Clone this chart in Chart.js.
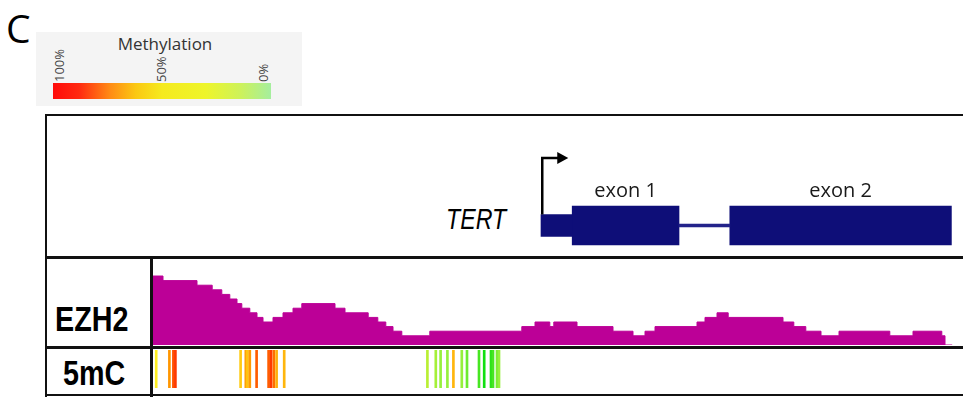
<!DOCTYPE html>
<html>
<head>
<meta charset="utf-8">
<script src="https://cdn.jsdelivr.net/npm/chart.js@4.4.1/dist/chart.umd.min.js"></script>
<style>
  body { margin: 0; width: 963px; height: 402px; position: relative; background: #fff; overflow: hidden; font-family: "Open Sans", sans-serif; }
  .abs { position: absolute; white-space: nowrap; }
  .rule { position: absolute; background: #111; }
  .track-label { position: absolute; font-family: "Liberation Sans", Arial, sans-serif; font-weight: bold; font-size: 35px; line-height: 35px; color: #000; transform-origin: 0 0; transform: scaleX(0.82); }
  .pct { position: absolute; font-size: 13px; line-height: 13px; color: #444; transform-origin: 0 0; transform: rotate(-90deg); white-space: nowrap; }
  canvas { position: absolute; }
</style>
</head>
<body>
<!-- panel letter -->
<div class="abs" style="left:6px;top:8px;font-size:39px;line-height:39px;color:#000;">C</div>

<!-- methylation colour key -->
<div class="abs" style="left:36px;top:32px;width:266px;height:74px;background:#f4f4f4;"></div>
<div class="abs" style="left:36px;top:35px;width:258px;text-align:center;font-size:17px;line-height:17px;color:#333;">Methylation</div>
<div class="pct" style="left:53px;top:82px;">100%</div>
<div class="pct" style="left:155px;top:82px;">50%</div>
<div class="pct" style="left:257px;top:82px;">0%</div>
<div class="abs" style="left:53px;top:83px;width:218px;height:16px;background:linear-gradient(to right,#ff0a0a 0%,#ff2a10 12%,#ff8a14 26%,#fbc812 38%,#f5ea1e 50%,#eef52a 70%,#cdf25a 86%,#a5ee9e 100%);"></div>

<!-- track frame -->
<div class="rule" style="left:45px;top:114px;width:918px;height:2px;"></div>
<div class="rule" style="left:45px;top:114px;width:2px;height:283px;"></div>
<div class="rule" style="left:45px;top:256px;width:918px;height:3px;"></div>
<div class="rule" style="left:150px;top:256px;width:3px;height:141px;"></div>
<div class="rule" style="left:45px;top:346px;width:918px;height:3px;"></div>
<div class="rule" style="left:45px;top:394px;width:918px;height:2px;"></div>

<!-- track names -->
<div class="abs" style="left:446px;top:205px;font-family:'Liberation Sans',Arial,sans-serif;font-style:italic;font-size:29px;line-height:29px;color:#000;transform-origin:0 0;transform:scaleX(0.8);">TERT</div>
<div class="track-label" style="left:55px;top:301px;">EZH2</div>
<div class="track-label" style="left:63px;top:355px;">5mC</div>

<canvas id="gene" width="800" height="106" style="left:153px;top:150px;"></canvas>
<canvas id="ezh2" width="800" height="86" style="left:153px;top:259px;"></canvas>
<canvas id="cpg" width="800" height="38" style="left:153px;top:350px;"></canvas>

<script>
// Genomic window, bp offsets from the left edge of the view
const regionStart = 0;
const regionEnd = 2000;

// TERT gene model
const utrStart = 970;
const utrEnd = 1048;
const exonNames = ['exon 1', 'exon 2'];
const exonStarts = [1048, 1442];
const exonEnds = [1315, 1996];
const intronStarts = [1315];
const intronEnds = [1442];

// EZH2 ChIP-seq coverage (step start positions, read counts)
const ezh2Pos = [0, 25, 110, 148, 172, 192, 210, 222, 242, 260, 275, 300, 325, 350, 372, 455, 480, 538, 562, 582,
                 600, 622, 692, 922, 955, 992, 1002, 1060, 1150, 1200, 1230, 1255, 1360, 1380, 1410, 1438, 1575,
                 1602, 1632, 1670, 1715, 1842, 1900, 1972, 1980, 1998];
const ezh2Signal = [14, 15, 14, 13, 12, 11, 10, 9, 8, 7, 6, 5, 6, 7, 8, 9, 8, 7, 6, 5,
                    4, 3, 2, 3, 4, 5, 4, 5, 4, 3, 2, 3, 4, 5, 6, 7, 6,
                    5, 4, 3, 2, 3, 2, 3, 2, 0];

// CpG sites and their methylation level (%)
const cpgPos = [8, 41, 51, 56, 219, 232, 236, 242, 259, 289, 295, 302, 309, 328,
                686, 707, 719, 736, 751, 772, 785, 815, 828, 845, 850, 860, 865];
const cpgMeth = [50, 75, 90, 96, 60, 72, 62, 74, 88, 88, 96, 84, 68, 66,
                 30, 24, 20, 20, 66, 20, 14, 8, 0, 4, 8, 16, 20];

const NAVY = '#0e0e78';
const MAGENTA = '#bc0097';

function methylColor(pct) {
  const stops = [[0, [16, 224, 16]], [20, [150, 240, 60]], [50, [255, 238, 32]], [75, [255, 150, 0]], [100, [255, 40, 0]]];
  for (let i = 1; i < stops.length; i++) {
    if (pct <= stops[i][0]) {
      const [p0, c0] = stops[i - 1], [p1, c1] = stops[i];
      const t = (pct - p0) / (p1 - p0);
      const c = c0.map((v, k) => Math.round(v + (c1[k] - v) * t));
      return `rgb(${c[0]},${c[1]},${c[2]})`;
    }
  }
  return 'rgb(255,40,0)';
}

Chart.defaults.animation = false;
Chart.defaults.responsive = false;
Chart.defaults.devicePixelRatio = 1;
Chart.defaults.plugins.legend.display = false;
Chart.defaults.plugins.tooltip.enabled = false;

const hiddenX = { type: 'linear', min: regionStart, max: regionEnd, display: false, offset: false };

// transcription start arrow and exon captions
const geneDecor = {
  id: 'geneDecor',
  afterDatasetsDraw(chart) {
    const { ctx, scales: { x, y } } = chart;
    const cy = y.getPixelForValue(0);
    const tx = x.getPixelForValue(utrStart) + 1.25;
    ctx.save();
    ctx.strokeStyle = '#000';
    ctx.fillStyle = '#000';
    ctx.lineWidth = 2.5;
    ctx.beginPath();
    ctx.moveTo(tx, cy - 11);
    ctx.lineTo(tx, 8);
    ctx.lineTo(tx + 17, 8);
    ctx.stroke();
    ctx.beginPath();
    ctx.moveTo(tx + 15, 2);
    ctx.lineTo(tx + 26, 8);
    ctx.lineTo(tx + 15, 14);
    ctx.closePath();
    ctx.fill();
    ctx.font = '20px "Open Sans"';
    ctx.fillStyle = '#1a1a1a';
    ctx.textAlign = 'center';
    ctx.textBaseline = 'alphabetic';
    exonNames.forEach((name, i) => {
      const cx = x.getPixelForValue((exonStarts[i] + exonEnds[i]) / 2);
      ctx.fillText(name, cx, 47);
    });
    ctx.restore();
  }
};

new Chart(document.getElementById('gene'), {
  type: 'bar',
  data: {
    labels: ['TERT'],
    datasets: [
      { data: [[utrStart, utrEnd]], barThickness: 22, backgroundColor: NAVY },
      ...intronStarts.map((s, i) => ({ data: [[s, intronEnds[i]]], barThickness: 3, backgroundColor: '#23238a' })),
      ...exonStarts.map((s, i) => ({ data: [[s, exonEnds[i]]], barThickness: 39, backgroundColor: NAVY }))
    ]
  },
  options: {
    indexAxis: 'y',
    layout: { padding: { top: 45, left: 0, right: 0, bottom: 0 } },
    datasets: { bar: { grouped: false, borderWidth: 0, borderSkipped: false } },
    scales: { x: hiddenX, y: { display: false } }
  },
  plugins: [geneDecor]
});

new Chart(document.getElementById('ezh2'), {
  type: 'line',
  data: {
    datasets: [{
      data: ezh2Pos.map((p, i) => ({ x: p, y: ezh2Signal[i] })),
      stepped: 'after',
      fill: 'origin',
      backgroundColor: MAGENTA,
      borderColor: MAGENTA,
      borderWidth: 1,
      pointRadius: 0
    }]
  },
  options: {
    layout: { padding: 0 },
    scales: { x: hiddenX, y: { min: 0, max: 18.7, display: false } }
  }
});

new Chart(document.getElementById('cpg'), {
  type: 'bar',
  data: {
    datasets: [{
      data: cpgPos.map(p => ({ x: p, y: 1 })),
      backgroundColor: cpgMeth.map(methylColor),
      barThickness: 2,
      borderWidth: 0
    }]
  },
  options: {
    layout: { padding: 0 },
    scales: { x: hiddenX, y: { min: 0, max: 1, display: false } }
  }
});
</script>
</body>
</html>
